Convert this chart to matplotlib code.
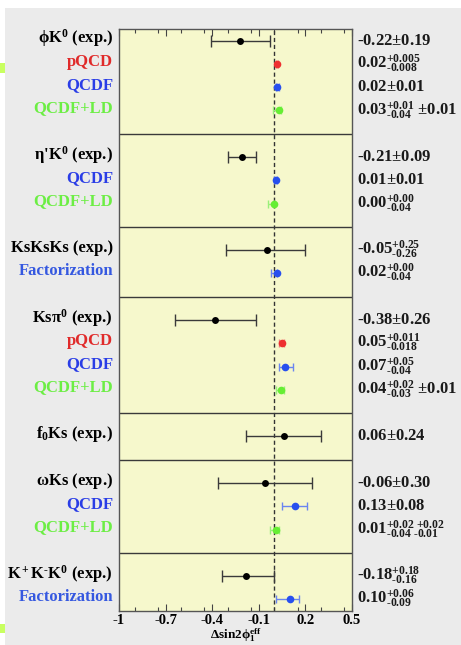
import matplotlib
matplotlib.use('Agg')
import matplotlib.pyplot as plt
from matplotlib.patches import Rectangle
from matplotlib.transforms import blended_transform_factory
from matplotlib.ticker import MultipleLocator

plt.rcParams['font.family'] = ['Liberation Serif', 'DejaVu Serif']
plt.rcParams['mathtext.fontset'] = 'custom'
plt.rcParams['mathtext.rm'] = 'Liberation Serif'
plt.rcParams['mathtext.bf'] = 'Liberation Serif:bold'
plt.rcParams['mathtext.it'] = 'Liberation Serif:italic'

HY = '\u2010'  # short hyphen, mathtext would turn '-' into a long minus

# rows per decay mode
group_sizes = [4, 3, 2, 4, 1, 3, 2]

row_labels = [
    r'$\mathbf{\phi K^0}$ (exp.)', 'pQCD', 'QCDF', 'QCDF+LD',
    r"$\mathbf{\eta}$'$\mathbf{K^0}$ (exp.)", 'QCDF', 'QCDF+LD',
    'KsKsKs (exp.)', 'Factorization',
    r'$\mathbf{Ks\pi^0}$ (exp.)', 'pQCD', 'QCDF', 'QCDF+LD',
    r'$\mathbf{f_0Ks}$ (exp.)',
    r'$\mathbf{\omega Ks}$ (exp.)', 'QCDF', 'QCDF+LD',
    r'$\mathbf{K^+K^{HY}K^0}$ (exp.)'.replace('HY', HY), 'Factorization',
]
kinds = ['exp', 'pqcd', 'qcdf', 'ld',
         'exp', 'qcdf', 'ld',
         'exp', 'fact',
         'exp', 'pqcd', 'qcdf', 'ld',
         'exp',
         'exp', 'qcdf', 'ld',
         'exp', 'fact']
values = [-0.22, 0.02, 0.02, 0.03,
          -0.21, 0.01, 0.00,
          -0.05, 0.02,
          -0.38, 0.05, 0.07, 0.04,
          0.06,
          -0.06, 0.13, 0.01,
          -0.18, 0.10]
err_plus = [0.19, 0.005, 0.01, 0.01,
            0.09, 0.01, 0.00,
            0.25, 0.00,
            0.26, 0.011, 0.05, 0.02,
            0.24,
            0.30, 0.08, 0.02,
            0.18, 0.06]
err_minus = [0.19, 0.008, 0.01, 0.04,
             0.09, 0.01, 0.04,
             0.26, 0.04,
             0.26, 0.018, 0.04, 0.03,
             0.24,
             0.30, 0.08, 0.04,
             0.16, 0.09]
value_texts = [
    r'$\mathbf{-0.22{\pm}0.19}$', r'$\mathbf{0.02^{+0.005}_{-0.008}}$',
    r'$\mathbf{0.02{\pm}0.01}$', r'$\mathbf{0.03^{+0.01}_{-0.04}\ {\pm}0.01}$',
    r'$\mathbf{-0.21{\pm}0.09}$', r'$\mathbf{0.01{\pm}0.01}$',
    r'$\mathbf{0.00^{+0.00}_{-0.04}}$',
    r'$\mathbf{-0.05^{+0.25}_{-0.26}}$', r'$\mathbf{0.02^{+0.00}_{-0.04}}$',
    r'$\mathbf{-0.38{\pm}0.26}$', r'$\mathbf{0.05^{+0.011}_{-0.018}}$',
    r'$\mathbf{0.07^{+0.05}_{-0.04}}$', r'$\mathbf{0.04^{+0.02}_{-0.03}\ {\pm}0.01}$',
    r'$\mathbf{0.06{\pm}0.24}$',
    r'$\mathbf{-0.06{\pm}0.30}$', r'$\mathbf{0.13{\pm}0.08}$',
    r'$\mathbf{0.01^{+0.02\ {+}0.02}_{-0.04\ {-}0.01}}$',
    r'$\mathbf{-0.18^{+0.18}_{-0.16}}$', r'$\mathbf{0.10^{+0.06}_{-0.09}}$',
]

label_colors = {'exp': 'black', 'pqcd': '#e02a2a', 'qcdf': '#2a3de6',
                'ld': '#6cee44', 'fact': '#3558e0'}
marker_colors = {'exp': 'black', 'pqcd': '#ee3030', 'qcdf': '#2850ee',
                 'ld': '#66ee33', 'fact': '#2850ee'}
bar_colors = {'exp': '#3a3a3a', 'pqcd': '#f08080', 'qcdf': '#6a85f0',
              'ld': '#99f07a', 'fact': '#6a85f0'}

# row slots, with one empty slot as separator between groups
row_y, seps = [], []
pos = 0
for gi, n in enumerate(group_sizes):
    for k in range(n):
        row_y.append(pos)
        pos += 1
    if gi < len(group_sizes) - 1:
        seps.append(pos)
        pos += 1

fig = plt.figure(figsize=(4.61, 6.45), dpi=100, facecolor='white')
fig.patches.append(Rectangle((5 / 461, 0), 1, (645 - 8) / 645, transform=fig.transFigure,
                             facecolor='#ebebeb', edgecolor='none', zorder=-10))
fig.patches.append(Rectangle((0, (645 - 73) / 645), 5 / 461, 10 / 645, transform=fig.transFigure,
                             facecolor='#c8ff60', edgecolor='none'))
fig.patches.append(Rectangle((0, (645 - 633) / 645), 5 / 461, 9 / 645, transform=fig.transFigure,
                             facecolor='#c8ff60', edgecolor='none'))

ax = fig.add_axes([119 / 461, (645 - 611) / 645, 233 / 461, 582 / 645])
ax.set_facecolor('#f6f8cc')

for y, v, ep, em, kd in zip(row_y, values, err_plus, err_minus, kinds):
    exp = kd == 'exp'
    ax.errorbar(v, y, xerr=[[em], [ep]], fmt='none', ecolor=bar_colors[kd],
                elinewidth=1.0, capsize=4 if exp else 3, capthick=1.0, zorder=3)
    ax.plot(v, y, 'o', color=marker_colors[kd], markersize=5 if exp else 5.5,
            markeredgewidth=0, zorder=4)

ax.axvline(0, color='#333333', linestyle=(0, (3, 2)), linewidth=1.0, zorder=2)
for s in seps:
    ax.axhline(s, color='#3a3a3a', linewidth=1.0, zorder=2)

ax.set_xlim(-1, 0.5)
ax.set_ylim(pos - 0.5, -0.5)
ax.set_yticks([])
ax.xaxis.set_major_locator(MultipleLocator(0.3))
ax.xaxis.set_minor_locator(MultipleLocator(0.15))
ax.tick_params(axis='x', which='both', direction='in', top=True, bottom=True,
               color='#444444', pad=2, labelsize=10.5)
ax.tick_params(axis='x', which='major', length=5, width=0.8)
ax.tick_params(axis='x', which='minor', length=3, width=0.8)
ax.set_xticks([-1, -0.7, -0.4, -0.1, 0.2, 0.5])
ax.set_xticklabels(['-1', '-0.7', '-0.4', '-0.1', '0.2', '0.5'], fontweight='bold')
for sp in ax.spines.values():
    sp.set_color('#555555')
    sp.set_linewidth(1.0)
ax.set_xlabel(r'$\mathbf{\Delta sin2\phi_1^{eff}}$', fontsize=9.5, labelpad=0)

trans = blended_transform_factory(ax.transAxes, ax.transData)
for y, lab, kd, vt in zip(row_y, row_labels, kinds, value_texts):
    ax.text(-0.026, y - 0.1, lab, transform=trans, ha='right', va='center',
            fontsize=12, fontweight='bold', color=label_colors[kd])
    ax.text(1.02, y, vt.replace('-', HY), transform=trans, ha='left', va='center',
            fontsize=12, color='#1a1a1a')

fig.savefig('out.png', dpi=100, facecolor=fig.get_facecolor())
